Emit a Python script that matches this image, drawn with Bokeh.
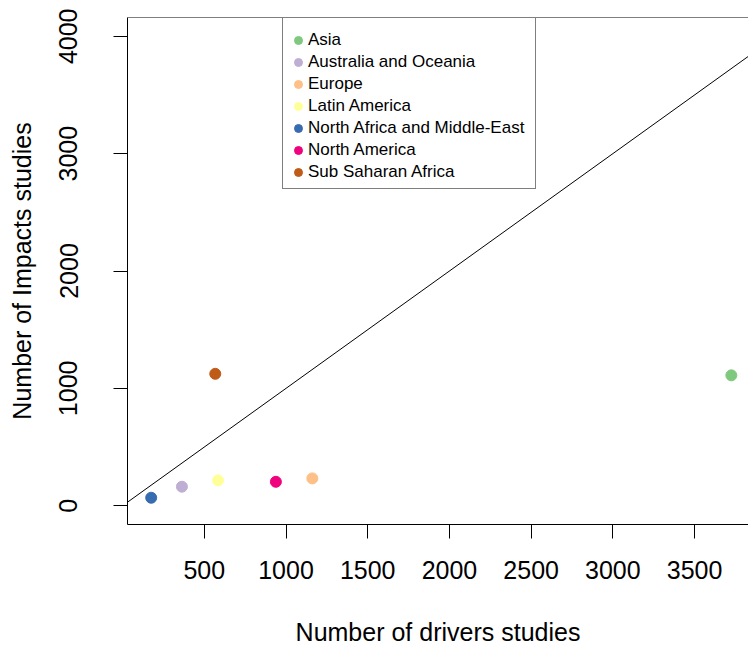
import math
from bokeh.plotting import figure
from bokeh.models import (ColumnDataSource, Range1d, LinearAxis, FixedTicker,
                          Slope, Legend, LegendItem, Span)
from bokeh.embed import file_html
from bokeh.resources import INLINE

regions = ["Asia", "Australia and Oceania", "Europe", "Latin America",
           "North Africa and Middle-East", "North America", "Sub Saharan Africa"]
drivers = [3725, 363, 1161, 584, 175, 938, 567]
impacts = [1111, 162, 233, 216, 68, 204, 1124]
colors = ["#7FC97F", "#BEAED4", "#FDC086", "#FFFF99", "#386CB0", "#F0027F", "#BF5B17"]
x_ticks = [500, 1000, 1500, 2000, 2500, 3000, 3500]
y_ticks = [0, 1000, 2000, 3000, 4000]
y_top = 4160

FONT = "Liberation Sans"

p = figure(width=748, height=649, output_backend="svg", toolbar_location=None,
           x_range=Range1d(30, 3830), y_range=Range1d(-160, y_top),
           min_border_left=127, min_border_right=0, min_border_top=17,
           min_border_bottom=125, x_axis_location=None, y_axis_location=None)
p.outline_line_color = None
p.xgrid.visible = False
p.ygrid.visible = False
p.background_fill_color = "white"
p.border_fill_color = "white"

def style_axis(ax):
    ax.axis_line_color = "black"
    ax.axis_line_width = 1
    ax.major_tick_line_color = "black"
    ax.major_tick_line_width = 1
    ax.major_tick_out = 14
    ax.major_tick_in = 0
    ax.minor_tick_line_color = None
    ax.major_label_text_font = FONT
    ax.major_label_text_font_size = "25px"
    ax.major_label_text_color = "black"
    ax.axis_label_text_font = FONT
    ax.axis_label_text_font_size = "25px"
    ax.axis_label_text_font_style = "normal"
    ax.axis_label_text_color = "black"

xa = LinearAxis(ticker=FixedTicker(ticks=x_ticks), axis_label="Number of drivers studies")
style_axis(xa)
xa.major_label_standoff = 22
xa.axis_label_standoff = 36
p.add_layout(xa, "below")

ya = LinearAxis(ticker=FixedTicker(ticks=y_ticks), axis_label="Number of Impacts studies")
style_axis(ya)
ya.major_label_orientation = "parallel"
ya.major_label_standoff = 36
ya.axis_label_standoff = 21
p.add_layout(ya, "left")

p.add_layout(Span(location=y_top, dimension="width", line_color="black", line_width=1))
p.add_layout(Slope(gradient=1, y_intercept=0, line_color="black", line_width=1))

items = []
for name, xv, yv, c in zip(regions, drivers, impacts, colors):
    src = ColumnDataSource(dict(x=[xv], y=[yv]))
    r = p.scatter("x", "y", source=src, size=11, fill_color=c, line_color=c)
    items.append(LegendItem(label=name, renderers=[r]))

legend = Legend(items=items, location=(155, 335))
legend.border_line_color = "black"
legend.border_line_width = 1
legend.background_fill_color = "white"
legend.background_fill_alpha = 1
legend.padding = 5
legend.spacing = 0
legend.margin = 0
legend.glyph_width = 20
legend.glyph_height = 22
legend.label_height = 22
legend.label_standoff = 0
legend.label_width = 222
legend.label_text_font = FONT
legend.label_text_font_size = "17px"
legend.label_text_color = "black"
legend.title = " "
legend.title_text_font_size = "1px"
legend.title_standoff = 5
p.add_layout(legend, "center")

open("out.html", "w").write(file_html(p, INLINE))
